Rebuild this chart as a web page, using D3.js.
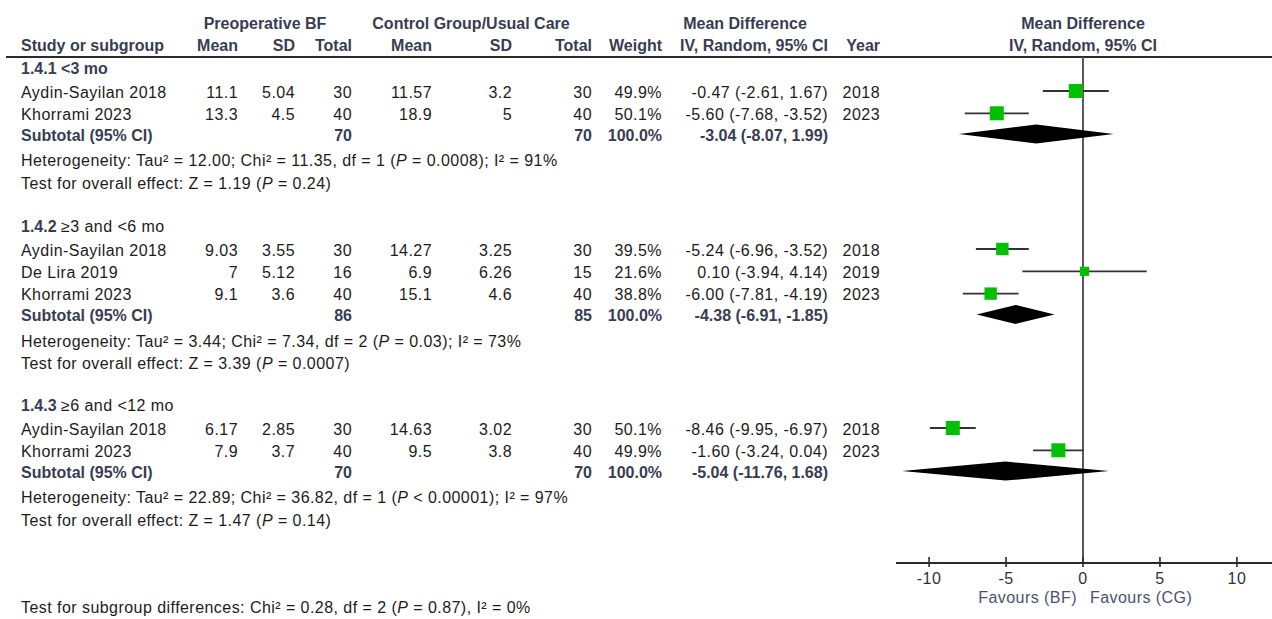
<!DOCTYPE html>
<html>
<head>
<meta charset="utf-8">
<script src="https://cdn.jsdelivr.net/npm/d3@7"></script>
<style>
  html, body { margin: 0; padding: 0; background: #fff; }
  svg { display: block; font-family: "Liberation Sans", Arial, sans-serif; }
  .reg { font-size: 16px; fill: #1c1c1c; letter-spacing: 0.45px; }
  .bold { font-size: 16px; font-weight: bold; fill: #383d52; }
</style>
</head>
<body>
<svg id="chart" width="1272" height="619"></svg>
<script>
// ---- Subgroups ----
const groupIds   = ["1.4.1", "1.4.2", "1.4.3"];
const groupNames = ["<3 mo", "≥3 and <6 mo", "≥6 and <12 mo"];

// ---- Studies (one entry per study row, grouped by subgroup index) ----
const studyGroup = [0, 0, 1, 1, 1, 2, 2];
const studyNames = ["Aydin-Sayilan 2018", "Khorrami 2023",
                    "Aydin-Sayilan 2018", "De Lira 2019", "Khorrami 2023",
                    "Aydin-Sayilan 2018", "Khorrami 2023"];
const bfMean  = [11.1, 13.3, 9.03, 7, 9.1, 6.17, 7.9];
const bfSD    = [5.04, 4.5, 3.55, 5.12, 3.6, 2.85, 3.7];
const bfN     = [30, 40, 30, 16, 40, 30, 40];
const cgMean  = [11.57, 18.9, 14.27, 6.9, 15.1, 14.63, 9.5];
const cgSD    = [3.2, 5, 3.25, 6.26, 4.6, 3.02, 3.8];
const cgN     = [30, 40, 30, 15, 40, 30, 40];
const weights = [49.9, 50.1, 39.5, 21.6, 38.8, 50.1, 49.9];
const md      = [-0.47, -5.60, -5.24, 0.10, -6.00, -8.46, -1.60];
const ciLow   = [-2.61, -7.68, -6.96, -3.94, -7.81, -9.95, -3.24];
const ciHigh  = [1.67, -3.52, -3.52, 4.14, -4.19, -6.97, 0.04];
const years   = [2018, 2023, 2018, 2019, 2023, 2018, 2023];

// ---- Subtotals ----
const subBfN    = [70, 86, 70];
const subCgN    = [70, 85, 70];
const subWeight = [100.0, 100.0, 100.0];
const subMd     = [-3.04, -4.38, -5.04];
const subLow    = [-8.07, -6.91, -11.76];
const subHigh   = [1.99, -1.85, 1.68];

// ---- Statistics text (P rendered in italics) ----
const hetText = [
  ["Heterogeneity: Tau² = 12.00; Chi² = 11.35, df = 1 (", "P", " = 0.0008); I² = 91%"],
  ["Heterogeneity: Tau² = 3.44; Chi² = 7.34, df = 2 (", "P", " = 0.03); I² = 73%"],
  ["Heterogeneity: Tau² = 22.89; Chi² = 36.82, df = 1 (", "P", " < 0.00001); I² = 97%"]
];
const effectText = [
  ["Test for overall effect: Z = 1.19 (", "P", " = 0.24)"],
  ["Test for overall effect: Z = 3.39 (", "P", " = 0.0007)"],
  ["Test for overall effect: Z = 1.47 (", "P", " = 0.14)"]
];
const subgroupDiffText = ["Test for subgroup differences: Chi² = 0.28, df = 2 (", "P", " = 0.87), I² = 0%"];

// ---- Axis ----
const tickValues = [-10, -5, 0, 5, 10];
const favourLeft = "Favours (BF)";
const favourRight = "Favours (CG)";

// ================= layout =================
const svg = d3.select("#chart");
const x = d3.scaleLinear().domain([-12.15, 12.15]).range([896, 1270]);

const col = { study: 21, bfMean: 238, bfSD: 295, bfN: 352, cgMean: 432, cgSD: 512, cgN: 592,
              weight: 662, ci: 828, year: 880 };

// vertical positions (row centres)
const groupTop = [68, 226, 405];
const rowH = 22.3;

function txt(xp, y, s, cls, anchor) {
  return svg.append("text").attr("x", xp).attr("y", y).attr("dy", "0.36em")
    .attr("class", cls).attr("text-anchor", anchor || "start").text(s);
}
function txtItalic(xp, y, parts, cls) {
  const t = svg.append("text").attr("x", xp).attr("y", y).attr("dy", "0.36em").attr("class", cls);
  t.append("tspan").text(parts[0]);
  t.append("tspan").attr("font-style", "italic").text(parts[1]);
  t.append("tspan").text(parts[2]);
  return t;
}
const f2 = v => v.toFixed(2);
const ciStr = (m, l, h) => `${f2(m)} (${f2(l)}, ${f2(h)})`;

// ---- headers ----
txt(265, 23, "Preoperative BF", "bold", "middle");
txt(471, 23, "Control Group/Usual Care", "bold", "middle");
txt(745, 23, "Mean Difference", "bold", "middle");
txt(x(0), 23, "Mean Difference", "bold", "middle");
const h2 = 45;
txt(col.study, h2, "Study or subgroup", "bold");
txt(col.bfMean, h2, "Mean", "bold", "end");
txt(col.bfSD, h2, "SD", "bold", "end");
txt(col.bfN, h2, "Total", "bold", "end");
txt(col.cgMean, h2, "Mean", "bold", "end");
txt(col.cgSD, h2, "SD", "bold", "end");
txt(col.cgN, h2, "Total", "bold", "end");
txt(col.weight, h2, "Weight", "bold", "end");
txt(col.ci, h2, "IV, Random, 95% CI", "bold", "end");
txt(col.year, h2, "Year", "bold", "end");
txt(x(0), h2, "IV, Random, 95% CI", "bold", "middle");

svg.append("line").attr("x1", 6).attr("x2", 1272).attr("y1", 57).attr("y2", 57)
  .attr("stroke", "#2a2a2a").attr("stroke-width", 2);

// ---- zero line ----
const axisY = 563;
svg.append("line").attr("x1", x(0)).attr("x2", x(0)).attr("y1", 57).attr("y2", axisY)
  .attr("stroke", "#5a5a5a").attr("stroke-width", 2);

// ---- groups ----
// square side grows with the square root of the study weight
const boxSide = d3.scaleSqrt().domain([0, 100]).range([0, 19.8]);

groupIds.forEach((gid, g) => {
  let y = groupTop[g];
  const label = svg.append("text").attr("x", col.study).attr("y", y).attr("dy", "0.36em");
  label.append("tspan").attr("class", "bold").text(gid + " ");
  label.append("tspan").attr("class", g === 0 ? "bold" : "reg").text(groupNames[g]);

  const idx = d3.range(studyNames.length).filter(i => studyGroup[i] === g);
  idx.forEach((i, k) => {
    const ry = groupTop[g] + 24 + k * rowH;
    txt(col.study, ry, studyNames[i], "reg");
    txt(col.bfMean, ry, String(bfMean[i]), "reg", "end");
    txt(col.bfSD, ry, String(bfSD[i]), "reg", "end");
    txt(col.bfN, ry, String(bfN[i]), "reg", "end");
    txt(col.cgMean, ry, String(cgMean[i]), "reg", "end");
    txt(col.cgSD, ry, String(cgSD[i]), "reg", "end");
    txt(col.cgN, ry, String(cgN[i]), "reg", "end");
    txt(col.weight, ry, weights[i].toFixed(1) + "%", "reg", "end");
    txt(col.ci, ry, ciStr(md[i], ciLow[i], ciHigh[i]), "reg", "end");
    txt(col.year, ry, String(years[i]), "reg", "end");

    const py = ry - 1;
    svg.append("line").attr("x1", x(ciLow[i])).attr("x2", x(ciHigh[i]))
      .attr("y1", py).attr("y2", py).attr("stroke", "#333").attr("stroke-width", 1.8);
    const s = boxSide(weights[i]);
    svg.append("rect").attr("x", x(md[i]) - s / 2).attr("y", py - s / 2)
      .attr("width", s).attr("height", s).attr("fill", "#00c000");
  });

  const sy = groupTop[g] + 24 + idx.length * rowH - 1.5;
  txt(col.study, sy, "Subtotal (95% CI)", "bold");
  txt(col.bfN, sy, String(subBfN[g]), "bold", "end");
  txt(col.cgN, sy, String(subCgN[g]), "bold", "end");
  txt(col.weight, sy, subWeight[g].toFixed(1) + "%", "bold", "end");
  txt(col.ci, sy, ciStr(subMd[g], subLow[g], subHigh[g]), "bold", "end");

  const dy = sy - 1, dh = 9.5;
  svg.append("path")
    .attr("d", `M${x(subLow[g])},${dy} L${x(subMd[g])},${dy - dh} L${x(subHigh[g])},${dy} L${x(subMd[g])},${dy + dh} Z`)
    .attr("fill", "#000");

  txtItalic(col.study, sy + 25.5, hetText[g], "reg");
  txtItalic(col.study, sy + 48, effectText[g], "reg");
});

txtItalic(col.study, 607, subgroupDiffText, "reg");

// ---- axis ----
const axis = svg.append("g").attr("transform", `translate(0,${axisY})`);
axis.append("line").attr("x1", x.range()[0]).attr("x2", 1272).attr("y1", 0).attr("y2", 0)
  .attr("stroke", "#2a2a2a").attr("stroke-width", 2);
axis.selectAll(".tk").data(tickValues).join("line")
  .attr("x1", d => x(d)).attr("x2", d => x(d)).attr("y1", -6).attr("y2", 4)
  .attr("stroke", "#2a2a2a").attr("stroke-width", 1.6);
axis.selectAll(".tl").data(tickValues).join("text")
  .attr("x", d => x(d)).attr("y", 15).attr("dy", "0.36em")
  .attr("text-anchor", "middle").attr("class", "reg").style("fill", "#333")
  .text(d => String(d));

svg.append("text").attr("x", 1077).attr("y", 597).attr("dy", "0.36em")
  .attr("text-anchor", "end").attr("class", "reg").style("fill", "#4a5270").text(favourLeft);
svg.append("text").attr("x", 1090).attr("y", 597).attr("dy", "0.36em")
  .attr("class", "reg").style("fill", "#4a5270").text(favourRight);
</script>
</body>
</html>
